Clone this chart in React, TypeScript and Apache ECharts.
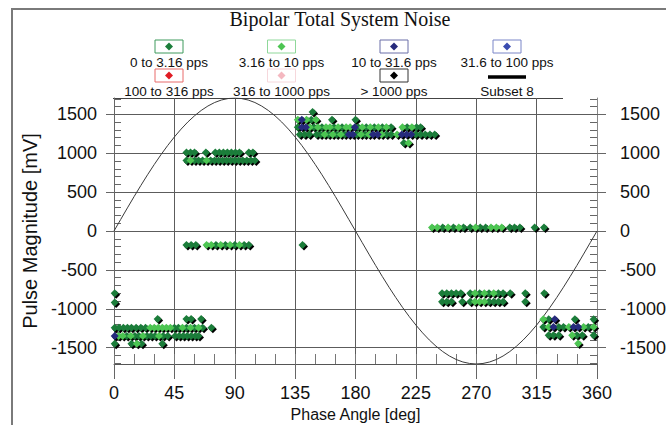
import React, { useEffect, useRef } from 'react';
import * as echarts from 'echarts';

const TITLE = 'Bipolar Total System Noise';
const X_NAME = 'Phase Angle [deg]';
const Y_NAME = 'Pulse Magnitude [mV]';
const Y_MIN = -1710;
const Y_MAX = 1710;
const Y_TICKS = [-1500, -1000, -500, 0, 500, 1000, 1500];
const Y_MINOR = [-1700, -1600, -1400, -1300, -1200, -1100, -900, -800, -700, -600, -400, -300, -200, -100, 100, 200, 300, 400, 600, 700, 800, 900, 1100, 1200, 1300, 1400, 1600, 1700];

const LEGEND_NAMES = ['0 to 3.16 pps', '3.16 to 10 pps', '10 to 31.6 pps', '31.6 to 100 pps', '100 to 316 pps', '316 to 1000 pps', '> 1000 pps', 'Subset 8'];
const LEGEND_COLORS = ['#1b7d3a', '#4cc552', '#262a7c', '#3a4cb0', '#e01c24', '#f4b8c0', '#000000', '#000000'];
const LEGEND_BORDERS = ['#3f9a5c', '#8fd89a', '#6a6ea8', '#7a86c8', '#e86a6a', '#f6d8dc', '#333333', '#000000'];

// Reference sine (phase 0..360 step 5 deg)
const SINE_MV = [0, 149, 297, 443, 585, 723, 855, 981, 1099, 1209, 1310, 1401, 1481, 1550, 1607, 1652, 1684, 1703, 1710, 1703, 1684, 1652, 1607, 1550, 1481, 1401, 1310, 1209, 1099, 981, 855, 723, 585, 443, 297, 149, 0, -149, -297, -443, -585, -723, -855, -981, -1099, -1209, -1310, -1401, -1481, -1550, -1607, -1652, -1684, -1703, -1710, -1703, -1684, -1652, -1607, -1550, -1481, -1401, -1310, -1209, -1099, -981, -855, -723, -585, -443, -297, -149, 0];

// [phase deg, magnitude mV]
const PPS_0_316: number[][] = [
  [0.5, -800], [0.5, -920],
  [32.5, -1130], [54, -1130], [57.5, -1130], [65, -1130],
  [0.5, -1245], [3.7, -1245], [7, -1245], [10, -1245], [13, -1245], [16.5, -1245], [20, -1245], [23.5, -1245], [45, -1245], [48, -1245], [54, -1245], [60, -1245], [66, -1245], [72.6, -1245],
  [9.5, -1350], [15.5, -1350], [18.5, -1350], [24.5, -1350], [27.5, -1350], [30.5, -1350], [36.5, -1350], [40, -1350], [45.5, -1350], [48.5, -1350], [51.5, -1350], [54.5, -1350], [57.5, -1350], [60.5, -1350], [63, -1350],
  [0.5, -1450], [13, -1450], [20.5, -1450], [36, -1450],
  [54, 1010], [57, 1010], [60, 1010], [68.5, 1010], [75.5, 1010], [78.5, 1010], [81.5, 1010], [84.5, 1010], [87.5, 1010], [90.5, 1010], [93.5, 1010], [100.5, 1010], [103.5, 1010],
  [54, 905], [60, 905], [63, 905], [66, 905], [72, 905], [75, 905], [78, 905], [81, 905], [84, 905], [87, 905], [90, 905], [93, 905], [96, 905], [99, 905], [102, 905], [105, 905],
  [54, -180], [57.5, -180], [61, -180], [76, -180], [83, -180], [90, -180], [97, -180], [100.5, -180], [140.5, -180],
  [148, 1530],
  [147, 1430], [162.5, 1430], [180, 1430],
  [137, 1335], [149, 1335], [155, 1335], [164, 1335], [170, 1335], [182, 1335], [188, 1335], [194, 1335], [200, 1335], [206.5, 1335], [218.5, 1335], [225.5, 1335], [228.5, 1335],
  [138.5, 1240], [142, 1240], [145.5, 1240], [151, 1240], [154, 1240], [160, 1240], [166, 1240], [172, 1240], [181, 1240], [187, 1240], [203, 1240], [206.5, 1240], [225, 1240], [228.5, 1240], [232, 1240], [235.5, 1240], [239, 1240],
  [216, 1130],
  [245, 45], [253, 45], [260.5, 45], [265.5, 45], [273, 45], [277, 45], [295, 45], [298.5, 45], [302.5, 45], [313.5, 45], [320.5, 45],
  [244.5, -800], [248, -800], [251.5, -800], [255, -800], [258.5, -800], [265.5, -800], [272.5, -800], [279.5, -800], [286.5, -800], [290, -800], [295.3, -800], [306.5, -800], [320.7, -800],
  [244.5, -910], [248, -910], [251.5, -910], [259.5, -910], [265.5, -910], [279.5, -910], [283, -910], [286.5, -910], [290, -910], [306.5, -910],
  [324, -1134], [343.5, -1134], [357.5, -1134],
  [320, -1233], [331.5, -1233], [335, -1233], [353.5, -1233],
  [324, -1340], [327.5, -1340], [331.5, -1340], [345, -1340], [349, -1340], [357.5, -1340],
];

const PPS_316_10: number[][] = [
  [27, -1245], [30, -1245], [33, -1245], [36, -1245], [39, -1245], [42, -1245], [51, -1245], [57, -1245], [63, -1245],
  [3.5, -1350], [6.5, -1350], [12.5, -1350], [21.5, -1350], [33.5, -1350],
  [17, -1450],
  [57, 905], [69, 905],
  [69, -180], [72.5, -180], [79.5, -180], [86.5, -180], [93.5, -180],
  [137, 1430], [143.5, 1430], [150.5, 1430],
  [146, 1335], [152, 1335], [158, 1335], [161, 1335], [167, 1335], [173, 1335], [176, 1335], [185, 1335], [191, 1335], [197, 1335], [203, 1335], [215, 1335], [222, 1335],
  [157, 1240], [163, 1240], [169, 1240], [184, 1240], [190, 1240], [199.5, 1240], [211, 1240],
  [219.5, 1130],
  [237, 45], [241, 45], [249, 45], [257, 45], [269.5, 45], [281, 45], [285, 45], [289, 45],
  [269, -800], [276, -800], [283, -800],
  [269, -910], [272.5, -910], [276, -910],
  [320, -1134],
  [324, -1233], [339, -1233], [350, -1233], [357.5, -1233],
  [341.5, -1340],
  [346, -1447],
];

const PPS_10_316: number[][] = [
  [0.5, -1350],
  [140, 1430],
  [140, 1335], [143, 1335], [179.5, 1335],
  [175, 1240], [178, 1240], [193, 1240], [196.5, 1240], [214.5, 1240], [218, 1240], [221.5, 1240],
  [328.5, -1134],
  [327.5, -1233], [342.5, -1233], [346, -1233],
];

const PPS_316_100: number[][] = [];
const PPS_100_316: number[][] = [];
const PPS_316_1000: number[][] = [];
const PPS_OVER_1000: number[][] = [];

const FONT = '"Liberation Sans", Arial, Helvetica, sans-serif';

export default function App() {
  const ref = useRef<HTMLDivElement>(null);

  useEffect(() => {
    if (!ref.current) return;
    const chart = echarts.init(ref.current, undefined, { renderer: 'svg' });

    const seriesData = [PPS_0_316, PPS_316_10, PPS_10_316, PPS_316_100, PPS_100_316, PPS_316_1000, PPS_OVER_1000];
    const allPoints: number[][] = ([] as number[][]).concat(...seriesData);

    const colX = [169, 281.5, 394, 507];
    const boxY = [40, 69];
    const textY = [62, 91];
    const legendGraphics: any[] = [];
    LEGEND_NAMES.forEach((name, i) => {
      const col = i % 4;
      const row = Math.floor(i / 4);
      const cx = colX[col];
      const by = boxY[row];
      if (i < 7) {
        legendGraphics.push({
          type: 'rect',
          shape: { x: cx - 14, y: by, width: 28, height: 13 },
          style: { fill: '#ffffff', stroke: LEGEND_BORDERS[i], lineWidth: 1 },
        });
        legendGraphics.push({
          type: 'polygon',
          shape: { points: [[cx, by + 2.5], [cx + 4, by + 6.5], [cx, by + 10.5], [cx - 4, by + 6.5]] },
          style: { fill: LEGEND_COLORS[i] },
        });
      } else {
        legendGraphics.push({
          type: 'line',
          shape: { x1: cx - 19, y1: by + 8, x2: cx + 19, y2: by + 8 },
          style: { stroke: LEGEND_COLORS[i], lineWidth: 3.5 },
        });
      }
      legendGraphics.push({
        type: 'text',
        x: cx,
        y: textY[row],
        style: {
          text: name, fontSize: 13.5, fontFamily: FONT, fill: '#111',
          align: 'center', verticalAlign: 'middle', textAlign: 'center', textVerticalAlign: 'middle',
        },
      });
    });

    const axisColor = '#666666';
    const gridColor = '#5c5c5c';
    const plain = (v: number) => String(v);

    const option: any = {
      animation: false,
      backgroundColor: '#ffffff',
      grid: { left: 114, right: 69, top: 98, bottom: 61, containLabel: false, outerBoundsMode: 'none' },
      graphic: [
        {
          type: 'rect',
          shape: { x: 12, y: 9, width: 720, height: 460 },
          style: { fill: 'none', stroke: '#7a7a7a', lineWidth: 2 },
          silent: true,
        },
        {
          type: 'line',
          shape: { x1: 113, y1: 98.5, x2: 563, y2: 98.5 },
          style: { stroke: '#444', lineWidth: 1 },
        },
        {
          type: 'text',
          x: 340,
          y: 19,
          style: {
            text: TITLE, fontSize: 20, fontFamily: '"Liberation Serif", "Times New Roman", serif', fill: '#111',
            align: 'center', verticalAlign: 'middle', textAlign: 'center', textVerticalAlign: 'middle',
          },
        },
        ...legendGraphics,
      ],
      xAxis: [
        {
          type: 'value', min: 0, max: 360, interval: 45, position: 'bottom',
          axisLine: { show: true, onZero: false, lineStyle: { color: '#555', width: 1 } },
          axisTick: { show: true, inside: false, length: 15, lineStyle: { color: axisColor } },
          splitLine: { show: true, lineStyle: { color: gridColor, width: 1 } },
          axisLabel: { fontSize: 18, fontFamily: FONT, color: '#111', margin: 20, formatter: plain },
          name: X_NAME, nameLocation: 'middle', nameGap: 42, nameMoveOverlap: false,
          nameTextStyle: { fontSize: 16, fontFamily: FONT, color: '#111' },
        },
        {
          type: 'value', min: 0, max: 360, interval: 15, position: 'bottom',
          axisLine: { show: false, onZero: false },
          axisTick: { show: true, inside: true, length: 10, lineStyle: { color: '#777' } },
          splitLine: { show: false },
          axisLabel: { show: false },
        },
      ],
      yAxis: [
        {
          type: 'value', min: Y_MIN, max: Y_MAX, position: 'left',
          axisLine: { show: true, onZero: false, lineStyle: { color: axisColor, width: 1 } },
          axisTick: { show: true, inside: false, length: 8, customValues: Y_TICKS, lineStyle: { color: axisColor } },
          axisLabel: { customValues: Y_TICKS, fontSize: 18, fontFamily: FONT, color: '#111', margin: 17, formatter: plain },
          splitLine: { show: true, lineStyle: { color: gridColor, width: 1 } },
          name: Y_NAME, nameLocation: 'middle', nameGap: 66,
          nameTextStyle: { fontSize: 20, fontFamily: FONT, color: '#111' },
        },
        {
          type: 'value', min: Y_MIN, max: Y_MAX, position: 'left',
          axisLine: { show: false, onZero: false },
          axisTick: { show: true, inside: true, length: 7, customValues: Y_MINOR, lineStyle: { color: '#666' } },
          axisLabel: { show: false },
          splitLine: { show: false },
        },
        {
          type: 'value', min: Y_MIN, max: Y_MAX, position: 'right',
          axisLine: { show: true, onZero: false, lineStyle: { color: '#888', width: 1 } },
          axisTick: { show: true, inside: false, length: 9, customValues: Y_TICKS, lineStyle: { color: axisColor } },
          axisLabel: { customValues: Y_TICKS, fontSize: 18, fontFamily: FONT, color: '#111', margin: 23, formatter: plain },
          splitLine: { show: false },
        },
        {
          type: 'value', min: Y_MIN, max: Y_MAX, position: 'right',
          axisLine: { show: false, onZero: false },
          axisTick: { show: true, inside: true, length: 7, customValues: Y_MINOR, lineStyle: { color: '#666' } },
          axisLabel: { show: false },
          splitLine: { show: false },
        },
      ],
      series: [
        {
          type: 'line', xAxisIndex: 0, yAxisIndex: 0,
          data: SINE_MV.map((v, i) => [i * 5, v]),
          symbol: 'none', showSymbol: false, silent: true,
          lineStyle: { color: '#3a3a3a', width: 1 }, z: 2,
        },
        {
          type: 'scatter', xAxisIndex: 0, yAxisIndex: 0, data: allPoints,
          symbol: 'diamond', symbolSize: 8, symbolOffset: [1.5, 1.5], silent: true,
          itemStyle: { color: '#000', opacity: 1 }, z: 3,
        },
        ...seriesData.map((d, i) => ({
          name: LEGEND_NAMES[i],
          type: 'scatter', xAxisIndex: 0, yAxisIndex: 0, data: d,
          symbol: 'diamond', symbolSize: 8, silent: true,
          itemStyle: { color: LEGEND_COLORS[i], opacity: 1 }, z: 4,
        })),
      ],
    };

    chart.setOption(option);
    return () => chart.dispose();
  }, []);

  return <div ref={ref} style={{ position: 'absolute', left: 0, top: 0, width: 666, height: 425 }} />;
}
